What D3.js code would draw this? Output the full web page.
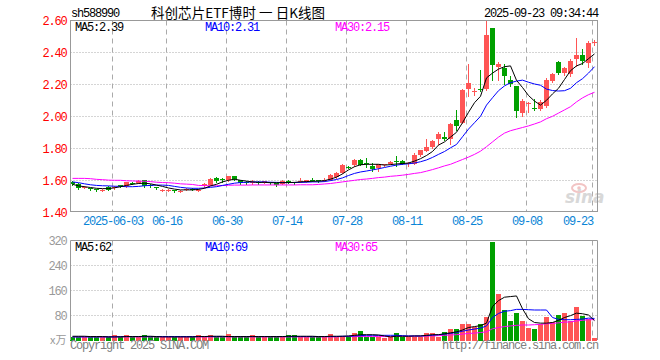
<!DOCTYPE html>
<html><head><meta charset="utf-8">
<script src="https://cdn.jsdelivr.net/npm/d3@7"></script>
<style>html,body{margin:0;padding:0;background:#fff;}svg{display:block}</style>
</head><body><svg id="c" width="660" height="360"></svg>
<script>
const code = "sh588990";
const title = "科创芯片ETF博时 一 日K线图";
const stamp = "2025-09-23 09:34:44";
const dates = ["05-22","05-23","05-26","05-27","05-28","05-29","05-30","06-03","06-04","06-05",
"06-06","06-09","06-10","06-11","06-12","06-13","06-16","06-17","06-18","06-19",
"06-20","06-23","06-24","06-25","06-26","06-27","06-30","07-01","07-02","07-03",
"07-04","07-07","07-08","07-09","07-10","07-11","07-14","07-15","07-16","07-17",
"07-18","07-21","07-22","07-23","07-24","07-25","07-28","07-29","07-30","07-31",
"08-01","08-04","08-05","08-06","08-07","08-08","08-11","08-12","08-13","08-14",
"08-15","08-18","08-19","08-20","08-21","08-22","08-25","08-26","08-27","08-28",
"08-29","09-01","09-02","09-03","09-04","09-05","09-08","09-09","09-10","09-11",
"09-12","09-15","09-16","09-17","09-18","09-19","09-22","09-23"];
const open = [1.590,1.578,1.555,1.552,1.543,1.538,1.560,1.552,1.568,1.563,
1.585,1.585,1.600,1.570,1.556,1.538,1.538,1.537,1.530,1.542,
1.548,1.538,1.563,1.575,1.612,1.607,1.600,1.625,1.603,1.590,
1.588,1.588,1.585,1.588,1.583,1.582,1.598,1.588,1.592,1.590,
1.602,1.600,1.598,1.605,1.620,1.647,1.686,1.692,1.729,1.706,
1.690,1.675,1.692,1.704,1.720,1.720,1.698,1.705,1.756,1.787,
1.806,1.858,1.870,1.862,1.975,1.958,2.170,2.156,2.168,2.170,
2.550,2.308,2.300,2.225,2.190,2.020,2.077,2.052,2.046,2.062,
2.217,2.337,2.270,2.262,2.358,2.383,2.333,2.460];
const high = [1.595,1.582,1.565,1.555,1.548,1.548,1.562,1.562,1.572,1.592,
1.590,1.600,1.605,1.575,1.560,1.548,1.547,1.540,1.540,1.552,
1.552,1.548,1.582,1.612,1.620,1.612,1.628,1.628,1.605,1.593,
1.600,1.593,1.598,1.592,1.585,1.602,1.603,1.592,1.612,1.605,
1.612,1.605,1.615,1.640,1.650,1.704,1.692,1.735,1.733,1.737,
1.710,1.702,1.702,1.720,1.750,1.725,1.712,1.770,1.790,1.860,
1.850,1.900,1.900,1.960,2.040,2.170,2.325,2.175,2.290,2.596,
2.550,2.340,2.330,2.250,2.190,2.110,2.092,2.110,2.105,2.240,
2.270,2.345,2.310,2.360,2.490,2.420,2.470,2.475];
const low = [1.570,1.548,1.550,1.540,1.532,1.535,1.538,1.548,1.560,1.560,
1.578,1.582,1.560,1.560,1.545,1.532,1.533,1.528,1.527,1.540,
1.538,1.535,1.560,1.572,1.588,1.592,1.598,1.602,1.575,1.578,
1.575,1.580,1.583,1.578,1.565,1.578,1.585,1.580,1.588,1.588,
1.595,1.590,1.595,1.600,1.615,1.645,1.678,1.690,1.695,1.683,
1.660,1.660,1.690,1.700,1.690,1.700,1.690,1.702,1.750,1.785,
1.800,1.830,1.850,1.830,1.917,1.955,2.125,2.135,2.160,2.165,
2.230,2.230,2.200,2.190,1.996,2.005,2.025,2.040,2.040,2.055,
2.215,2.265,2.260,2.255,2.317,2.330,2.308,2.448];
const close = [1.578,1.555,1.558,1.545,1.538,1.542,1.540,1.558,1.563,1.590,
1.580,1.596,1.565,1.565,1.550,1.542,1.542,1.532,1.535,1.548,
1.543,1.542,1.578,1.610,1.595,1.598,1.625,1.605,1.583,1.585,
1.590,1.585,1.593,1.582,1.570,1.598,1.590,1.585,1.596,1.600,
1.600,1.595,1.603,1.635,1.648,1.695,1.683,1.725,1.700,1.702,
1.672,1.700,1.700,1.717,1.717,1.703,1.706,1.760,1.787,1.810,
1.846,1.888,1.860,1.954,1.935,2.163,2.210,2.160,2.165,2.508,
2.317,2.325,2.250,2.200,2.033,2.096,2.080,2.048,2.087,2.225,
2.262,2.270,2.304,2.346,2.383,2.346,2.458,2.463];
const ma5 = [1.575,1.565,1.560,1.555,1.550,1.548,1.548,1.553,1.560,1.568,
1.575,1.580,1.582,1.578,1.570,1.562,1.552,1.545,1.540,1.540,
1.540,1.543,1.550,1.565,1.575,1.590,1.600,1.607,1.600,1.595,
1.590,1.587,1.587,1.585,1.585,1.585,1.586,1.587,1.590,1.592,
1.594,1.595,1.598,1.607,1.620,1.640,1.665,1.685,1.697,1.700,
1.700,1.700,1.695,1.698,1.702,1.705,1.708,1.720,1.735,1.755,
1.780,1.820,1.840,1.870,1.900,1.960,2.025,2.085,2.125,2.240,
2.270,2.295,2.310,2.315,2.225,2.180,2.130,2.095,2.070,2.100,
2.140,2.175,2.230,2.285,2.315,2.330,2.360,2.390];
const ma10 = [1.590,1.585,1.578,1.572,1.568,1.566,1.565,1.563,1.562,1.560,
1.560,1.562,1.566,1.568,1.570,1.570,1.568,1.562,1.556,1.552,
1.550,1.550,1.552,1.556,1.560,1.568,1.575,1.582,1.586,1.588,
1.590,1.590,1.590,1.588,1.587,1.586,1.586,1.586,1.587,1.588,
1.590,1.590,1.592,1.598,1.605,1.615,1.630,1.643,1.652,1.658,
1.665,1.672,1.680,1.688,1.695,1.700,1.703,1.708,1.716,1.727,
1.743,1.762,1.780,1.803,1.824,1.872,1.920,1.960,2.000,2.070,
2.116,2.160,2.190,2.210,2.220,2.226,2.213,2.202,2.194,2.170,
2.161,2.158,2.160,2.175,2.210,2.235,2.270,2.310];
const ma30 = [1.612,1.612,1.612,1.610,1.606,1.604,1.601,1.600,1.600,1.597,
1.596,1.595,1.594,1.592,1.588,1.586,1.585,1.582,1.578,1.576,
1.574,1.568,1.567,1.566,1.566,1.567,1.569,1.570,1.570,1.570,
1.571,1.571,1.571,1.571,1.571,1.571,1.571,1.571,1.572,1.572,
1.572,1.574,1.577,1.580,1.585,1.590,1.595,1.600,1.605,1.608,
1.612,1.617,1.620,1.625,1.628,1.632,1.637,1.643,1.648,1.657,
1.667,1.678,1.690,1.700,1.715,1.730,1.745,1.762,1.782,1.810,
1.840,1.870,1.895,1.910,1.920,1.930,1.940,1.952,1.965,1.985,
2.000,2.020,2.040,2.060,2.090,2.115,2.135,2.150];
const volume = [9,9,9,9,9,9,9,15,9,15,
9,9,17,9,9,9,9,9,9,9,
9,17,10,15,9,9,19,9,9,9,
17,9,9,9,9,9,17,17,9,9,
9,9,9,18,11,12,14,22,29,11,
11,11,8,11,22,11,11,11,11,22,
22,11,27,35,35,51,51,42,51,75,
315,147,96,61,86,61,38,34,51,75,
59,80,88,61,107,76,67,5];
const vma5 = [12,12,12,11,11,11,10,10,10,11,
11,11,12,12,11,10,10,10,10,10,
10,11,11,12,12,12,11,11,11,11,
11,11,11,11,11,11,12,12,12,12,
12,11,11,12,12,12,13,15,17,17,
17,16,13,10,12,12,12,13,13,15,
17,17,20,23,26,32,40,43,46,54,
107,126,137,139,141,100,68,56,54,54,
56,63,72,78,86,84,80,62];
const vma10 = [10,10,10,10,10,10,10,10,11,11,
11,11,11,11,11,11,11,11,11,11,
11,11,11,11,11,11,11,11,11,11,
11,11,11,11,11,11,11,11,11,11,
11,11,11,11,11,12,12,13,14,15,
15,15,15,15,15,14,13,13,13,14,
15,17,19,21,24,28,32,35,38,45,
72,85,92,94,98,98,97,96,96,96,
72,66,65,65,66,67,70,69];
const vma30 = [10,10,10,10,10,10,10,10,10,10,
10,10,10,10,10,10,10,10,10,10,
10,10,10,10,10,10,10,10,10,10,
10,10,10,10,10,10,10,10,10,10,
10,10,10,10,10,11,11,11,11,11,
11,11,11,11,12,12,12,12,12,13,
13,14,15,16,17,19,21,22,24,26,
36,40,43,45,47,48,48,49,50,52,
53,55,57,58,61,63,65,65];
const tickIdx = [7,16,26,36,46,56,66,76,87];
const tickLabels = ["2025-06-03","06-16","06-30","07-14","07-28","08-11","08-25","09-08","09-23"];
const priceTicks = [1.40,1.60,1.80,2.00,2.20,2.40,2.60];
const volTicks = [80,160,240,320];

const RED="#ff5555", GREEN="#00a000";
const MONO="'Liberation Mono','DejaVu Sans Mono',monospace";
const svg=d3.select("#c");
const n=close.length;
const L=70.5,R=597.5,PT=20.5,PB=211.5,VT=240.5,VB=340;
const x=d3.scaleLinear().domain([0,n-1]).range([72.5,72.5+6*(n-1)]);
const xg=d3.scaleLinear().domain([0,n-1]).range([70.5,70.5+6*(n-1)]);
const yP=d3.scaleLinear().domain([1.4,2.6]).range([212.3,20.3]);
const yV=d3.scaleLinear().domain([0,320]).range([340,240]);
const px=v=>Math.round(v)+0.5;

function mono(sel,size,color){return sel.attr("font-family",MONO).attr("font-size",size).attr("letter-spacing",-0.1*size).attr("fill",color);}

// gridlines
const grid=svg.append("g").attr("stroke","#aaa").attr("stroke-width",1);
priceTicks.filter(v=>v>1.41&&v<2.59).forEach(v=>{
  grid.append("line").attr("x1",L).attr("x2",R).attr("y1",px(yP(v))).attr("y2",px(yP(v))).attr("stroke-dasharray","1,2");
});
volTicks.filter(v=>v<320).forEach(v=>{
  grid.append("line").attr("x1",L).attr("x2",R).attr("y1",px(yV(v))).attr("y2",px(yV(v))).attr("stroke-dasharray","1,2");
});
tickIdx.forEach(k=>{
  grid.append("line").attr("x1",xg(k)).attr("x2",xg(k)).attr("y1",PT).attr("y2",PB).attr("stroke-dasharray","5,4");
  grid.append("line").attr("x1",xg(k)).attr("x2",xg(k)).attr("y1",VT).attr("y2",VB).attr("stroke-dasharray","5,4");
});

// watermark
const wm=svg.append("g");
wm.append("ellipse").attr("cx",579).attr("cy",188).attr("rx",7).attr("ry",4).attr("fill","none").attr("stroke","#f2c4c4").attr("stroke-width",2);
wm.append("circle").attr("cx",579).attr("cy",188).attr("r",1.8).attr("fill","#f2c4c4");
wm.append("text").attr("x",565).attr("y",203).attr("font-family","'DejaVu Sans',sans-serif").attr("font-style","italic").attr("font-weight","bold").attr("font-size",17).attr("fill","#d8d8d8").text("sina");

// candles
const cg=svg.append("g");
const isUp=i=>close[i]>=open[i];
cg.selectAll("line.w").data(close).join("line").attr("class","w")
  .attr("x1",(d,i)=>x(i)).attr("x2",(d,i)=>x(i))
  .attr("y1",(d,i)=>Math.round(yP(high[i]))).attr("y2",(d,i)=>Math.round(yP(low[i]))+1)
  .attr("stroke",(d,i)=>isUp(i)?RED:GREEN).attr("stroke-width",1);
cg.selectAll("rect.b").data(close).join("rect").attr("class","b")
  .attr("x",(d,i)=>x(i)-2.5).attr("width",5)
  .attr("y",(d,i)=>Math.round(Math.min(yP(open[i]),yP(close[i]))))
  .attr("height",(d,i)=>Math.max(1,Math.round(Math.abs(yP(open[i])-yP(close[i])))))
  .attr("fill",(d,i)=>isUp(i)?RED:GREEN).attr("shape-rendering","crispEdges");

// price MA lines
const pline=d3.line().x((d,i)=>x(i)).y(d=>yP(d));
[[ma30,"#ff00ff"],[ma10,"#0000ff"],[ma5,"#000"]].forEach(([arr,c])=>{
  svg.append("path").attr("d",pline(arr)).attr("fill","none").attr("stroke",c).attr("stroke-width",1);
});

// volume bars
svg.append("g").selectAll("rect").data(volume).join("rect")
  .attr("x",(d,i)=>x(i)-2.5).attr("width",5)
  .attr("y",d=>Math.round(yV(d))).attr("height",d=>VB+0.7-Math.round(yV(d)))
  .attr("fill",(d,i)=>isUp(i)?RED:GREEN).attr("shape-rendering","crispEdges");
const vline=d3.line().x((d,i)=>x(i)).y(d=>yV(d));
[[vma30,"#ff00ff"],[vma10,"#0000ff"],[vma5,"#000"]].forEach(([arr,c])=>{
  svg.append("path").attr("d",vline(arr)).attr("fill","none").attr("stroke",c).attr("stroke-width",1);
});

// frames
const fr=svg.append("g").attr("stroke","#999").attr("fill","none").attr("stroke-width",1);
fr.append("rect").attr("x",L).attr("y",PT).attr("width",R-L).attr("height",PB-PT);
fr.append("path").attr("d",`M${L},${VB}V${VT}H${R}V${VB}`);

// axes
const ay=svg.append("g").attr("transform",`translate(${L},0)`)
  .call(d3.axisLeft(yP).tickValues(priceTicks).tickFormat(d3.format(".2f")).tickSize(0).tickPadding(4));
ay.select(".domain").remove();
mono(ay.selectAll("text"),12,"#f00").attr("dy","0.36em");
const av=svg.append("g").attr("transform",`translate(${L},0)`)
  .call(d3.axisLeft(yV).tickValues(volTicks).tickSize(0).tickPadding(4));
av.select(".domain").remove();
mono(av.selectAll("text"),12,"#999").attr("dy","0.36em");
const ax=svg.append("g").attr("transform",`translate(0,${PB})`)
  .call(d3.axisBottom(xg).tickValues(tickIdx).tickFormat((d,i)=>tickLabels[i]).tickSize(0).tickPadding(5));
ax.select(".domain").remove();
mono(ax.selectAll("text"),12,"#0a84d6");
// keep the last date label inside the plot
ax.selectAll("text").filter((d,i)=>i===tickIdx.length-1).attr("text-anchor","end").attr("x",0);

// header texts
mono(svg.append("text").attr("x",71).attr("y",17).text(code),12,"#000");
svg.append("text").attr("x",151).attr("y",17.5).attr("font-family","'Noto Sans CJK SC',sans-serif").attr("font-size",13.5)
  .attr("textLength",174).attr("lengthAdjust","spacing").attr("fill","#000").text(title);
mono(svg.append("text").attr("x",598).attr("y",17).attr("text-anchor","end").text(stamp),12,"#000");

// MA legends
const f2=d3.format(".2f");
mono(svg.append("text").attr("x",75).attr("y",31).text("MA5:"+f2(ma5[n-1])),12,"#000");
mono(svg.append("text").attr("x",205).attr("y",31).text("MA10:"+f2(ma10[n-1])),12,"#0000ff");
mono(svg.append("text").attr("x",335).attr("y",31).text("MA30:"+f2(ma30[n-1])),12,"#ff00ff");
mono(svg.append("text").attr("x",75).attr("y",251).text("MA5:"+vma5[n-1]),12,"#000");
mono(svg.append("text").attr("x",205).attr("y",251).text("MA10:"+vma10[n-1]),12,"#0000ff");
mono(svg.append("text").attr("x",335).attr("y",251).text("MA30:"+vma30[n-1]),12,"#ff00ff");

// footer
svg.append("text").attr("x",50).attr("y",344).attr("font-family","'Noto Sans CJK SC',sans-serif").attr("font-size",11).attr("fill","#999").text("x万");
mono(svg.append("text").attr("x",70).attr("y",349).text("Copyright 2025 SINA.COM"),12,"#808080");
mono(svg.append("text").attr("x",598).attr("y",349).attr("text-anchor","end").text("http://finance.sina.com.cn"),12,"#808080");
</script></body></html>
